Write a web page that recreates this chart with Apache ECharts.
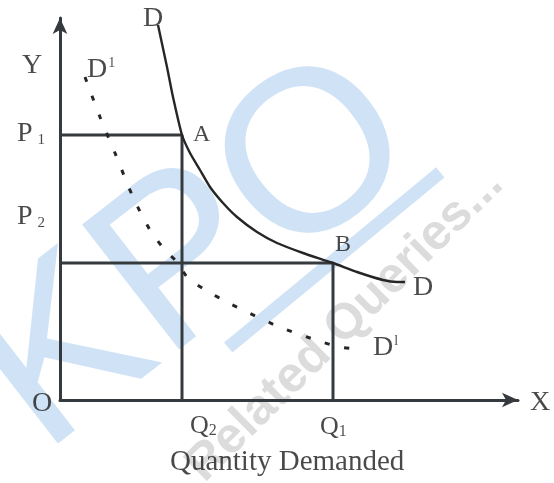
<!DOCTYPE html>
<html>
<head>
<meta charset="utf-8">
<script src="https://cdn.jsdelivr.net/npm/echarts@6/dist/echarts.min.js"></script>
<style>
html, body { margin: 0; padding: 0; background: #fff; }
#chart { width: 554px; height: 483px; }
</style>
</head>
<body>
<div id="chart"></div>
<script>
// D curve (solid)
var demandQ = [9.8, 10.7, 11.3, 12.2, 13.0, 14.0, 15.0, 16.3, 17.7, 19.7, 21.7, 24.3, 27.3, 29.7, 32.3, 33.7, 34.5]
var demandP = [37.5, 33.3, 30.3, 26.5, 24.7, 23.0, 21.3, 19.7, 18.3, 16.8, 15.7, 14.7, 13.7, 12.8, 12.0, 11.8, 11.8]
// D1 curve (dotted)
var demand1Q = [2.5, 4.0, 5.5, 7.3, 9.0, 10.5, 11.7, 12.8, 14.7, 16.7, 18.7, 22.2, 26.2, 28.0, 30.4]
var demand1P = [32.3, 28.3, 24.7, 20.3, 17.0, 15.0, 13.8, 12.2, 10.9, 9.8, 8.8, 7.2, 5.8, 5.3, 5.0]
// prices and quantities of points A and B
var priceLevels = [26.5, 13.7] // P1, P2
var qtyLevels = [12.2, 27.3] // Q2, Q1
// text labels and their anchors (data units)
var labelText = ['{m|D}', '{m|Y}', '{m|D}{sup|1}', '{m|P}{sub|1}', '{s|A}', '{m|P}{sub|2}', '{s|B}',
  '{m|D}', '{m|D}{sup|l}', '{m|O}', '{q|Q}{qsub|2}', '{q|Q}{qsub|1}', '{m|X}', '{t|Quantity Demanded}']
var labelX = [8.3, -3.8, 2.7, -4.3, 13.3, -4.3, 27.5, 35.3, 31.3, -2.8, 13.0, 26.0, 47.0, 11.0]
var labelY = [38.1, 33.4, 33.0, 26.6, 26.5, 18.3, 15.5, 11.2, 5.2, -0.4, -2.6, -2.7, -0.3, -6.2]

var chart = echarts.init(document.getElementById('chart'))

var ink = '#1c1c1c'
var lineColor = '#353a3f'
var serif = 'Liberation Serif'
var wmBlue = '#d0e3f6'

function pairs (xs, ys) {
  var out = []
  for (var i = 0; i < xs.length; i++) out.push([xs[i], ys[i]])
  return out
}

var labelData = []
for (var i = 0; i < labelText.length; i++) {
  labelData.push({ value: [labelX[i], labelY[i]], label: { formatter: labelText[i] } })
}

var richStyles = {
  m: { fontSize: 28, fontFamily: serif, color: ink, lineHeight: 28 },
  s: { fontSize: 24, fontFamily: serif, color: ink, lineHeight: 24 },
  sub: { fontSize: 15, fontFamily: serif, color: ink, lineHeight: 15, verticalAlign: 'bottom', padding: [0, 0, 0, 5] },
  sup: { fontSize: 14, fontFamily: serif, color: ink, lineHeight: 14, verticalAlign: 'top', padding: [0, 0, 0, 1] },
  q: { fontSize: 26, fontFamily: serif, color: ink, lineHeight: 26 },
  qsub: { fontSize: 16, fontFamily: serif, color: ink, lineHeight: 16, verticalAlign: 'bottom' },
  t: { fontSize: 29, fontFamily: serif, color: ink, lineHeight: 29 }
}

chart.setOption({
  animation: false,
  backgroundColor: '#ffffff',
  grid: { left: 60, top: 18, right: 36, bottom: 83 },
  graphic: [
    {
      type: 'text', z: -10, x: 196, y: 256, rotation: 0.66,
      style: { text: 'KPO', font: '230px "Liberation Sans"', fill: wmBlue, textAlign: 'center', textVerticalAlign: 'middle' }
    },
    {
      type: 'rect', z: -10, x: 440, y: 172, rotation: 0.69,
      shape: { x: -275, y: -6, width: 275, height: 13 },
      style: { fill: wmBlue }
    },
    {
      type: 'text', z: -9, x: 345, y: 325, rotation: 0.78,
      style: { text: 'Related Queries...', font: 'bold 50px "Liberation Sans"', fill: '#dcdcdc', textAlign: 'center', textVerticalAlign: 'middle' }
    }
  ],
  xAxis: {
    type: 'value', min: 0, max: 45.8,
    axisLine: { show: true, lineStyle: { color: lineColor, width: 3 }, symbol: ['none', 'arrow'], symbolSize: [11, 16] },
    axisTick: { show: false }, axisLabel: { show: false }, splitLine: { show: false }
  },
  yAxis: {
    type: 'value', min: 0, max: 38.2,
    axisLine: { show: true, lineStyle: { color: lineColor, width: 3 }, symbol: ['none', 'arrow'], symbolSize: [11, 16] },
    axisTick: { show: false }, axisLabel: { show: false }, splitLine: { show: false }
  },
  series: [
    {
      name: 'A guide', type: 'line', symbol: 'none', z: 3,
      lineStyle: { color: lineColor, width: 3 },
      data: [[0, priceLevels[0]], [qtyLevels[0], priceLevels[0]], [qtyLevels[0], 0]]
    },
    {
      name: 'B guide', type: 'line', symbol: 'none', z: 3,
      lineStyle: { color: lineColor, width: 3 },
      data: [[0, priceLevels[1]], [qtyLevels[1], priceLevels[1]], [qtyLevels[1], 0]]
    },
    {
      name: 'D', type: 'line', symbol: 'none', smooth: 0.2, z: 4,
      lineStyle: { color: '#262626', width: 2.4 },
      data: pairs(demandQ, demandP)
    },
    {
      name: 'D1', type: 'line', symbol: 'none', smooth: 0.3, z: 4,
      lineStyle: { color: '#262626', width: 3, type: [5, 15] },
      data: pairs(demand1Q, demand1P)
    },
    {
      name: 'labels', type: 'scatter', symbolSize: 0, clip: false, z: 5,
      label: { show: true, position: 'inside', align: 'left', verticalAlign: 'middle', rich: richStyles },
      data: labelData
    }
  ]
})
</script>
</body>
</html>
